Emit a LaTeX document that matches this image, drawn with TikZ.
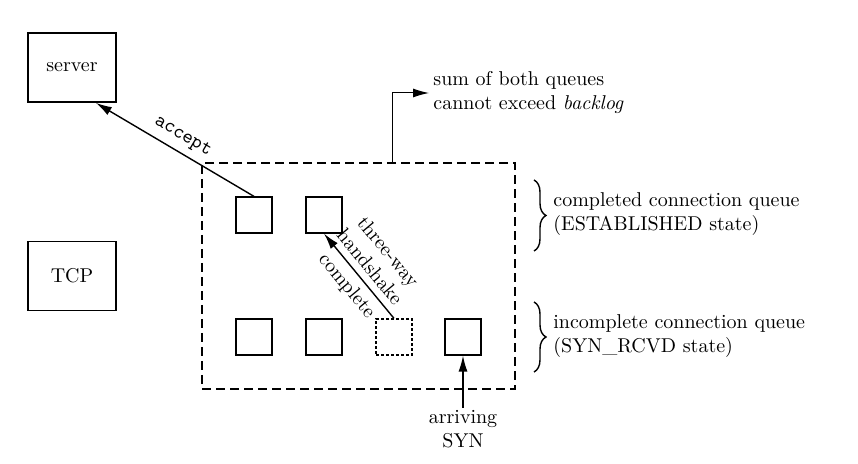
\documentclass[tikz,border=0pt]{standalone}
\usepackage{tikz}
\usetikzlibrary{arrows.meta,decorations.pathreplacing,calc}

\begin{document}
\begin{tikzpicture}[x=0.5pt, y=-0.5pt,
  box/.style={draw, line width=0.9pt, minimum width=44pt, minimum height=34.5pt, inner sep=0pt},
  slot/.style={draw, line width=0.6pt, minimum size=18pt, inner sep=0pt},
  arr/.style={-{Latex[length=8pt,width=4.5pt]}, line width=0.7pt},
  note/.style={align=left, anchor=west, inner sep=0pt},
  curly/.style={decorate, decoration={brace, amplitude=6pt}, line width=0.7pt}]
  \useasboundingbox (0,0) rectangle (858,464);
  %% 1. Boxes
  \node[box] (server) at (72,67.5) {server};
  \node[box] (tcp) at (72,276) {TCP};
  %% 2. Queues
  \node[draw, dash pattern=on 4.5pt off 2.5pt, line width=0.8pt,
        minimum width=156.5pt, minimum height=113pt, inner sep=0pt] (queues) at (358.5,276) {};
  \node[slot] (c1) at (254,215) {};
  \node[slot] (c2) at (324,215) {};
  \node[slot] (i1) at (254,337) {};
  \node[slot] (i2) at (324,337) {};
  \node[slot, dash pattern=on 1.5pt off 1pt] (i3) at (394,337) {};
  \node[slot] (i4) at (463,337) {};
  %% 3. Arrows and labels
  \draw[arr] (c1.north) -- (server.-56)
    node[midway, sloped, above] {\ttfamily accept};
  \draw[arr] (i3.north) -- (c2.south)
    node[midway, sloped, above, align=center] {three-way\\handshake}
    node[midway, sloped, below] {complete};
  \node[align=center, anchor=north, inner sep=1pt] (syn) at (463,408) {arriving\\SYN};
  \draw[arr] (syn.north) -- (i4.south);
  \node[note] (backlog) at (433,93) {sum of both queues\\cannot exceed \textit{backlog}};
  \draw[arr, line width=0.5pt, shorten >=2pt]
    ($(queues.north west)!0.607!(queues.north east)$) |- (backlog.west);
  %% 4. Braces
  \draw[curly] (534,180) -- (534,251);
  \node[note] (estq) at (553,214) {completed connection queue\\(ESTABLISHED state)};
  \draw[curly] (534,302) -- (534,372);
  \node[note] (synq) at (553,336) {incomplete connection queue\\(SYN\_RCVD state)};
\end{tikzpicture}
\end{document}
